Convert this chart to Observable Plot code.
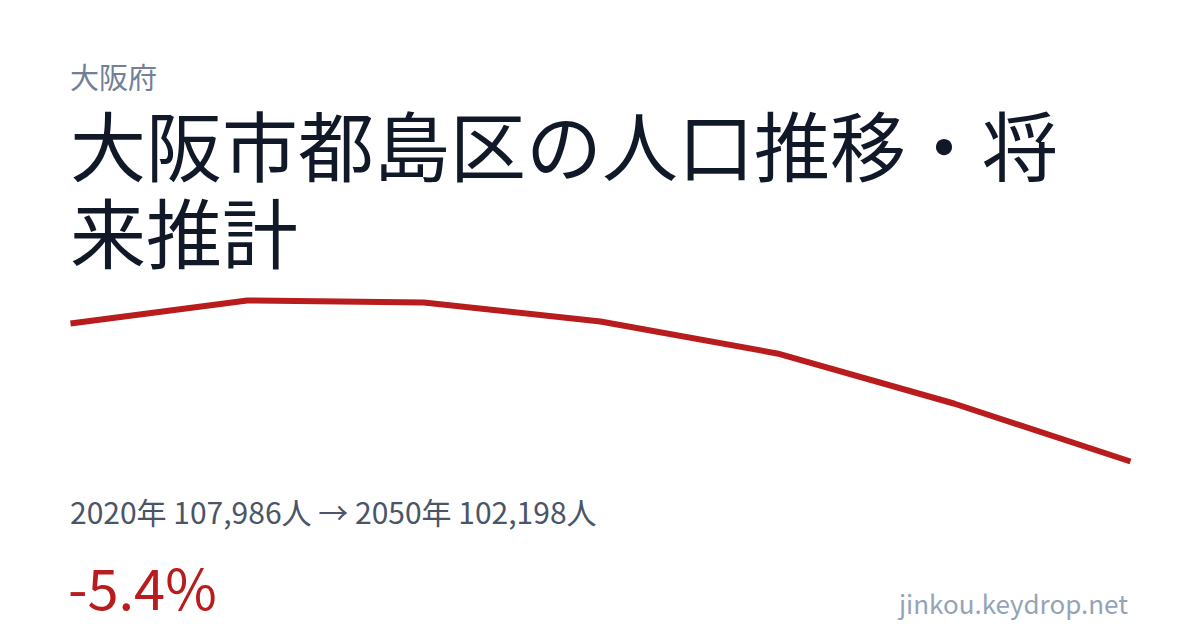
<!DOCTYPE html>
<html><head><meta charset="utf-8">
<script src="https://cdn.jsdelivr.net/npm/d3@7"></script>
<script src="https://cdn.jsdelivr.net/npm/@observablehq/plot@0.6"></script>
<style>
html,body{margin:0;padding:0;background:#fff;width:1200px;height:630px;overflow:hidden;font-family:"Noto Sans CJK JP","Noto Sans",sans-serif;}
.abs{position:absolute;white-space:nowrap;}
#pref{left:70px;top:62px;font-size:29px;line-height:1;color:#718096;}
#title{left:70px;top:100px;width:1060px;font-size:76px;line-height:87px;color:#111827;white-space:normal;}
#chart{position:absolute;left:0;top:290px;}
#stats{left:70px;top:496px;font-size:30px;line-height:1;color:#4a5568;}
#pct{left:68px;top:558px;font-size:56px;line-height:1;color:#b91c1c;}
#foot{right:72px;top:590px;font-size:26px;line-height:1;color:#94a3b8;}
</style></head>
<body>
<div class="abs" id="pref">大阪府</div>
<div class="abs" id="title">大阪市都島区の人口推移・将来推計</div>
<div id="chart"></div>
<div class="abs" id="stats">2020年 107,986人 → 2050年 102,198人</div>
<div class="abs" id="pct">-5.4%</div>
<div class="abs" id="foot">jinkou.keydrop.net</div>
<script>
const years = [2020, 2025, 2030, 2035, 2040, 2045, 2050];
const population = [107986, 108950, 108870, 108070, 106730, 104630, 102198];
const data = years.map((y, i) => ({year: y, pop: population[i]}));
const plot = Plot.plot({
  width: 1200,
  height: 180,
  marginLeft: 70,
  marginRight: 70,
  marginTop: 10,
  marginBottom: 9,
  x: {domain: d3.extent(years), axis: null},
  y: {domain: d3.extent(population), axis: null},
  marks: [
    Plot.line(data, {x: "year", y: "pop", stroke: "#b91c1c", strokeWidth: 6, strokeLinejoin: "miter", strokeLinecap: "butt"})
  ]
});
document.getElementById("chart").appendChild(plot);
</script>
</body></html>
